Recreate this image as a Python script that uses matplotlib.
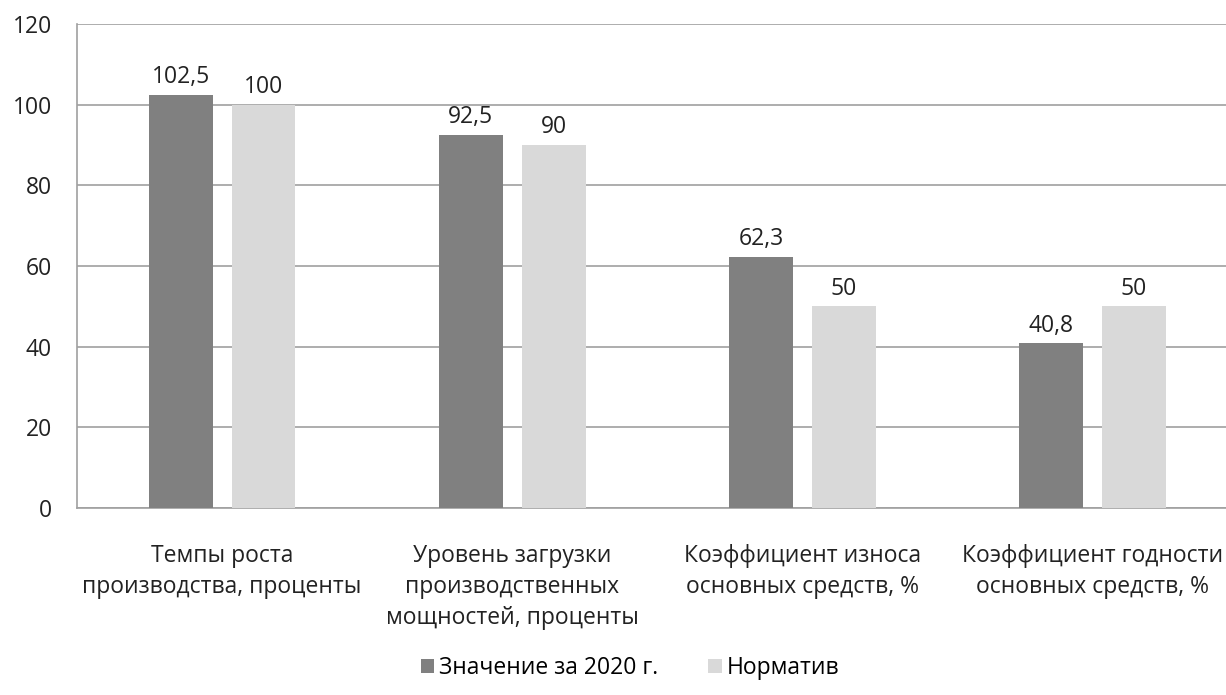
import numpy as np
import matplotlib
matplotlib.use("Agg")
import matplotlib.pyplot as plt

plt.rcParams['font.family'] = ['Open Sans', 'DejaVu Sans']

categories = ["Темпы роста\nпроизводства, проценты",
              "Уровень загрузки\nпроизводственных\nмощностей, проценты",
              "Коэффициент износа\nосновных средств, %",
              "Коэффициент годности\nосновных средств, %"]
value_2020 = [102.5, 92.5, 62.3, 40.8]
norm = [100, 90, 50, 50]
label_2020 = ["102,5", "92,5", "62,3", "40,8"]
label_norm = ["100", "90", "50", "50"]
yticks = [0, 20, 40, 60, 80, 100, 120]

fig = plt.figure(figsize=(12.26, 6.95), dpi=100)
ax = fig.add_axes([77/1226, 1 - 508/695, (1226 - 77)/1226, (508 - 24)/695])

x = np.arange(len(categories))
w = 0.22
off = 0.143
b1 = ax.bar(x - off, value_2020, w, color='#808080', zorder=3, label='Значение за 2020 г.')
b2 = ax.bar(x + off, norm, w, color='#d9d9d9', zorder=3, label='Норматив')

fs = 16.5
for xi, v, t in zip(x - off, value_2020, label_2020):
    ax.annotate(t, (xi, v), xytext=(0, 4), textcoords='offset points',
                ha='center', va='bottom', fontsize=fs, color='#222222')
for xi, v, t in zip(x + off, norm, label_norm):
    ax.annotate(t, (xi, v), xytext=(0, 4), textcoords='offset points',
                ha='center', va='bottom', fontsize=fs, color='#222222')

ax.set_xlim(-0.5, 3.46)
ax.set_ylim(0, 120)
ax.set_yticks(yticks)
ax.set_yticklabels([str(t) for t in yticks], fontsize=fs, color='#222222')
ax.yaxis.grid(True, color='#a0a0a0', linewidth=1.2, zorder=0)
ax.tick_params(axis='y', length=0, pad=18)
ax.set_xticks(x)
ax.set_xticklabels(categories, fontsize=fs, color='#222222', linespacing=1.38)
ax.tick_params(axis='x', length=0, pad=26)

for s in ['top', 'right']:
    ax.spines[s].set_visible(False)
for s in ['left', 'bottom']:
    ax.spines[s].set_color('#a0a0a0')
    ax.spines[s].set_linewidth(1.2)

fig.legend(handles=[b1, b2], loc='center', bbox_to_anchor=(630/1226, 1 - 668/695),
           ncol=2, frameon=False, fontsize=fs, handlelength=0.6, handleheight=0.6,
           handletextpad=0.2, columnspacing=2.2)

fig.savefig('out.png', dpi=100)
